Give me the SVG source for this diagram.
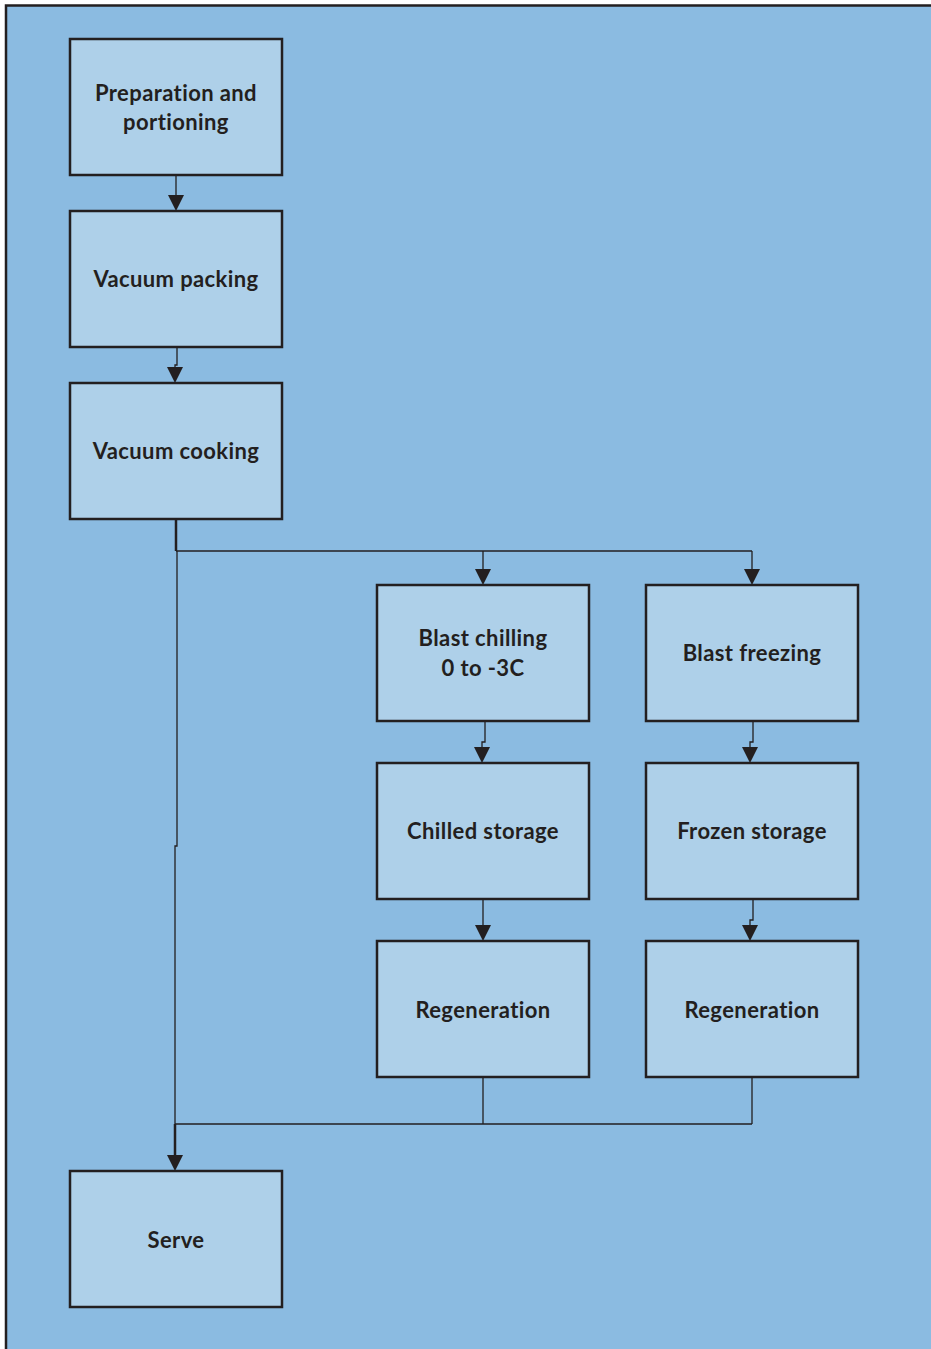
<svg xmlns="http://www.w3.org/2000/svg" width="931" height="1349" viewBox="0 0 931 1349">
  <defs>
    <style>
      .panel { fill: #8BBBE1; stroke: #231F20; stroke-width: 2.5; }
      .box { fill: #AED0E9; stroke: #231F20; stroke-width: 2.5; }
      .lbl { font-family: Lato, "Liberation Sans", sans-serif; font-weight: bold; font-size: 22px; letter-spacing: 0.4px; fill: #231F20; text-anchor: middle; }
      .wire { fill: none; stroke: #231F20; stroke-width: 1.3; }
      .wire-thick { fill: none; stroke: #231F20; stroke-width: 2.5; }
      .head { fill: #231F20; }
    </style>
  </defs>

  <rect x="0" y="0" width="931" height="1349" fill="#FFFFFF"/>
  <rect class="panel" x="6" y="5.5" width="940" height="1360"/>

  <!-- connectors -->
  <g id="connectors">
    <path class="wire" d="M176,175 V195"/>
    <path class="head" d="M168,195 L184,195 L176,211 Z"/>
    <path class="wire" d="M177,347 V365 H175 V367"/>
    <path class="head" d="M167,367 L183,367 L175,383 Z"/>

    <path class="wire-thick" d="M176,519 V551"/>
    <path class="wire" d="M176,551 H752"/>
    <path class="wire" d="M483,551 V569"/>
    <path class="head" d="M475,569 L491,569 L483,585 Z"/>
    <path class="wire" d="M752,551 V569"/>
    <path class="head" d="M744,569 L760,569 L752,585 Z"/>

    <path class="wire" d="M485,721 V742 H482 V747"/>
    <path class="head" d="M474,747 L490,747 L482,763 Z"/>
    <path class="wire" d="M753,721 V742 H750 V747"/>
    <path class="head" d="M742,747 L758,747 L750,763 Z"/>

    <path class="wire" d="M483,899 V925"/>
    <path class="head" d="M475,925 L491,925 L483,941 Z"/>
    <path class="wire" d="M753,899 V920 H750 V925"/>
    <path class="head" d="M742,925 L758,925 L750,941 Z"/>

    <path class="wire" d="M177,551 V846 H175 V1124"/>
    <path class="wire" d="M483,1077 V1124 M752,1077 V1124 M175,1124 H752"/>
    <path class="wire-thick" d="M175,1124 V1155"/>
    <path class="head" d="M167,1155 L183,1155 L175,1171 Z"/>
  </g>

  <g id="prep">
    <rect class="box" x="70" y="39" width="212" height="136"/>
    <text class="lbl" x="176" y="101">Preparation and</text>
    <text class="lbl" x="176" y="130">portioning</text>
  </g>
  <g id="vacuum-packing">
    <rect class="box" x="70" y="211" width="212" height="136"/>
    <text class="lbl" x="176" y="287">Vacuum packing</text>
  </g>
  <g id="vacuum-cooking">
    <rect class="box" x="70" y="383" width="212" height="136"/>
    <text class="lbl" x="176" y="459">Vacuum cooking</text>
  </g>
  <g id="blast-chilling">
    <rect class="box" x="377" y="585" width="212" height="136"/>
    <text class="lbl" x="483" y="646">Blast chilling</text>
    <text class="lbl" x="483" y="676">0 to -3C</text>
  </g>
  <g id="blast-freezing">
    <rect class="box" x="646" y="585" width="212" height="136"/>
    <text class="lbl" x="752" y="661">Blast freezing</text>
  </g>
  <g id="chilled-storage">
    <rect class="box" x="377" y="763" width="212" height="136"/>
    <text class="lbl" x="483" y="839">Chilled storage</text>
  </g>
  <g id="frozen-storage">
    <rect class="box" x="646" y="763" width="212" height="136"/>
    <text class="lbl" x="752" y="839">Frozen storage</text>
  </g>
  <g id="regen-chilled">
    <rect class="box" x="377" y="941" width="212" height="136"/>
    <text class="lbl" x="483" y="1018">Regeneration</text>
  </g>
  <g id="regen-frozen">
    <rect class="box" x="646" y="941" width="212" height="136"/>
    <text class="lbl" x="752" y="1018">Regeneration</text>
  </g>
  <g id="serve">
    <rect class="box" x="70" y="1171" width="212" height="136"/>
    <text class="lbl" x="176" y="1248">Serve</text>
  </g>
</svg>
